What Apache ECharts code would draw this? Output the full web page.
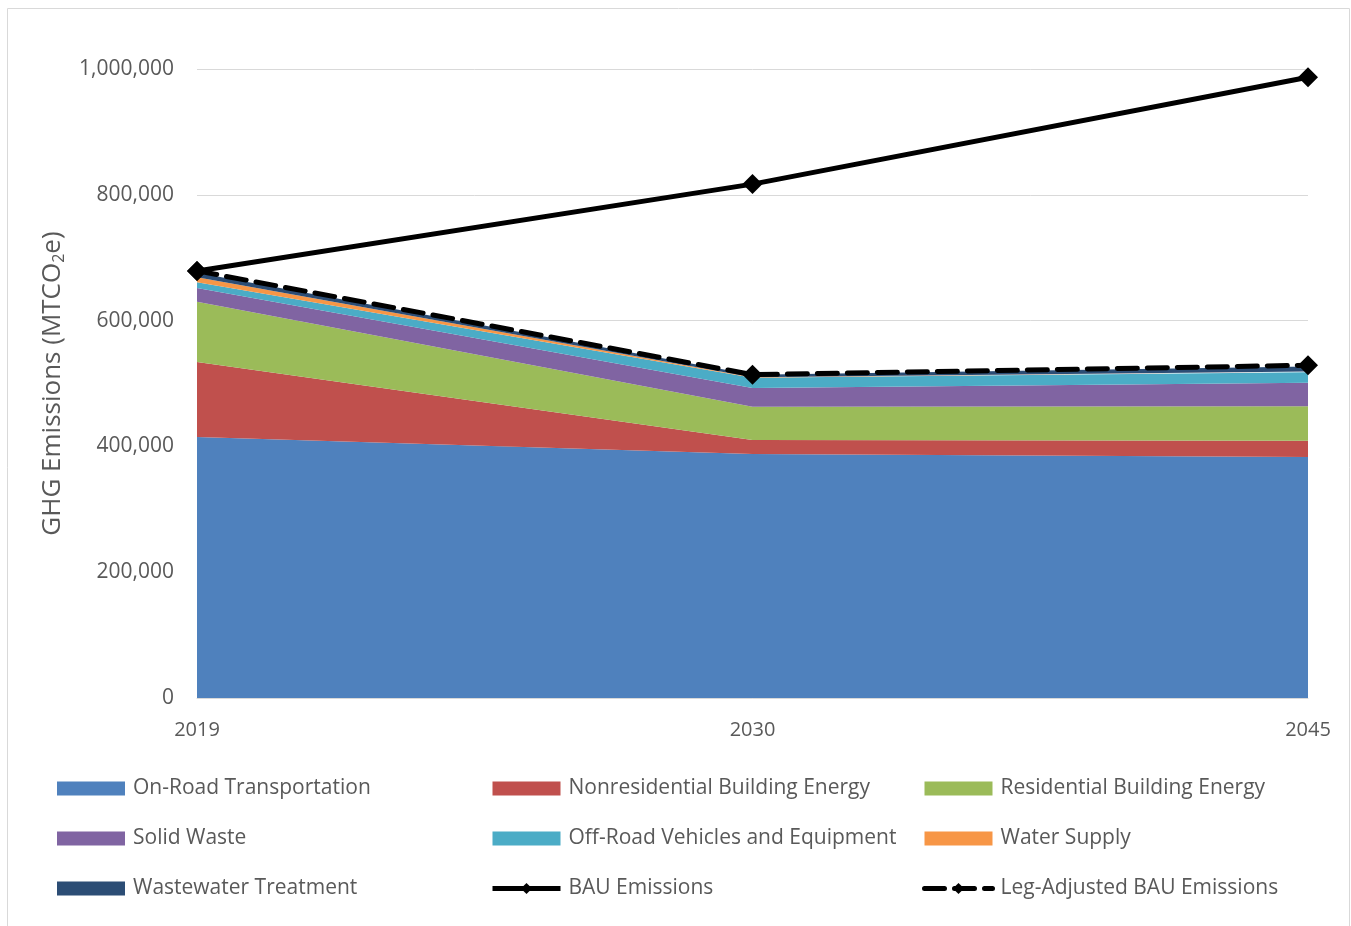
<!DOCTYPE html>
<html>
<head>
<meta charset="utf-8">
<script src="https://cdn.jsdelivr.net/npm/echarts@6/dist/echarts.min.js"></script>
<style>
  html, body { margin: 0; padding: 0; background: #fff; }
  #main { width: 1351px; height: 926px; }
</style>
</head>
<body>
<div id="main"></div>
<script>
var years = ['2019', '2030', '2045'];

var onRoad = [415000, 388000, 383000];
var nonresBuilding = [119000, 22000, 26000];
var resBuilding = [96000, 53000, 55000];
var solidWaste = [22000, 30000, 37000];
var offRoad = [9000, 16000, 17000];
var waterSupply = [8000, 1000, 1000];
var wastewater = [7000, 4000, 8000];

var bau = [679000, 817000, 987000];
var legAdjustedBau = [679000, 514000, 529000];

var chartDom = document.getElementById('main');
var myChart = echarts.init(chartDom);
var option;

var font = '"Open Sans", sans-serif';

function area(name, values, color) {
  return {
    name: name,
    type: 'line',
    stack: 'total',
    data: values,
    symbol: 'none',
    lineStyle: { width: 0 },
    areaStyle: { color: color, opacity: 1 },
    itemStyle: { color: color },
    z: 2
  };
}

var legendText = { fontFamily: font, fontSize: 21, color: '#595959', padding: [0, 0, 0, 3] };

function legendCol(left, names) {
  return {
    orient: 'vertical',
    left: left,
    top: 773,
    itemWidth: 68,
    itemHeight: 14,
    itemGap: 29,
    textStyle: legendText,
    data: names
  };
}

option = {
  animation: false,
  graphic: [{
    type: 'rect',
    left: 5, top: 6,
    shape: { width: 1342, height: 930 },
    style: { fill: 'none', stroke: '#d9d9d9', lineWidth: 1 }
  }],
  grid: { left: 197, right: 43, top: 69, bottom: 228 },
  legend: [
    legendCol(52, [
      { name: 'On-Road Transportation', icon: 'rect' },
      { name: 'Solid Waste', icon: 'rect' },
      { name: 'Wastewater Treatment', icon: 'rect' }
    ]),
    legendCol(485, [
      { name: 'Nonresidential Building Energy', icon: 'rect' },
      { name: 'Off-Road Vehicles and Equipment', icon: 'rect' },
      { name: 'BAU Emissions', lineStyle: { width: 5 } }
    ]),
    legendCol(917, [
      { name: 'Residential Building Energy', icon: 'rect' },
      { name: 'Water Supply', icon: 'rect' },
      { name: 'Leg-Adjusted BAU Emissions', lineStyle: { width: 5 } }
    ])
  ],
  xAxis: {
    type: 'category',
    data: years,
    boundaryGap: false,
    axisLine: { show: true, lineStyle: { color: '#d9d9d9' } },
    axisTick: { show: false },
    axisLabel: { fontFamily: font, fontSize: 20, color: '#595959', margin: 22 }
  },
  yAxis: {
    type: 'value',
    min: 0,
    max: 1000000,
    interval: 200000,
    name: 'GHG Emissions (MTCO{sub|2}e)',
    nameLocation: 'middle',
    nameGap: 130,
    nameTextStyle: {
      fontFamily: font, fontSize: 26, color: '#595959',
      rich: {
        sub: { fontFamily: font, fontSize: 16, color: '#595959', padding: [12, 0, 0, 0] }
      }
    },
    axisLine: { show: false },
    axisTick: { show: false },
    splitLine: { lineStyle: { color: '#d9d9d9', width: 1 } },
    axisLabel: {
      fontFamily: font, fontSize: 21, color: '#595959', margin: 23,
      formatter: function (v) { return v.toLocaleString('en-US'); }
    }
  },
  series: [
    area('On-Road Transportation', onRoad, '#4F81BD'),
    area('Nonresidential Building Energy', nonresBuilding, '#C0504D'),
    area('Residential Building Energy', resBuilding, '#9BBB59'),
    area('Solid Waste', solidWaste, '#8064A2'),
    area('Off-Road Vehicles and Equipment', offRoad, '#4BACC6'),
    area('Water Supply', waterSupply, '#F79646'),
    area('Wastewater Treatment', wastewater, '#2C4D75'),
    {
      name: 'BAU Emissions',
      type: 'line',
      data: bau,
      symbol: 'diamond',
      symbolSize: 20,
      lineStyle: { color: '#000', width: 5 },
      itemStyle: { color: '#000' },
      z: 5
    },
    {
      name: 'Leg-Adjusted BAU Emissions',
      type: 'line',
      data: legAdjustedBau,
      symbol: 'diamond',
      symbolSize: 20,
      lineStyle: { color: '#000', width: 5, type: [20, 10], cap: 'round' },
      itemStyle: { color: '#000' },
      z: 5
    }
  ]
};

option && myChart.setOption(option);
</script>
</body>
</html>
